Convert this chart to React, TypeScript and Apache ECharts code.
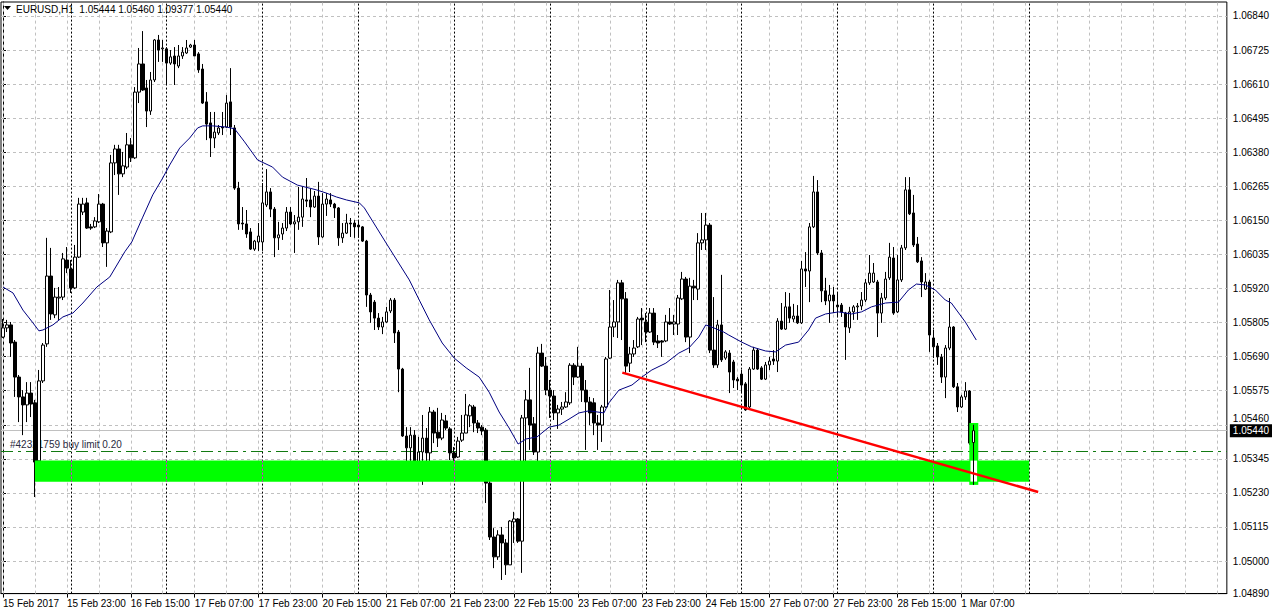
import React, { useEffect, useRef } from "react";
import * as echarts from "echarts";

// ---------- DATA ----------
const symbolTitle = "EURUSD,H1  1.05444 1.05460 1.09377 1.05440";

const dateLabels = [
  "15 Feb 2017", "15 Feb 23:00", "16 Feb 15:00", "17 Feb 07:00", "17 Feb 23:00",
  "20 Feb 15:00", "21 Feb 07:00", "21 Feb 23:00", "22 Feb 15:00", "23 Feb 07:00",
  "23 Feb 23:00", "24 Feb 15:00", "27 Feb 07:00", "27 Feb 23:00", "28 Feb 15:00",
  "1 Mar 07:00",
];
const barsPerLabel = 16;
const barsPerGridLine = 8;
const totalSlots = 307; // bar slots visible across the chart (incl. empty future area)
const dayStartBars = [17, 41, 65, 89, 113, 137, 161, 185, 209, 233, 257];

const priceTicks = [
  1.0684, 1.06725, 1.0661, 1.06495, 1.0638, 1.06265, 1.0615, 1.06035, 1.0592,
  1.05805, 1.0569, 1.05575, 1.0546, 1.05345, 1.0523, 1.05115, 1.05, 1.0489,
];
const priceMin = 1.0489;
const priceMax = 1.068872;

const open = [
  1.05756,1.05787,1.05797,1.05739,1.05621,1.05554,1.05527,1.05567,1.05534,1.05338,
  1.05608,1.05733,1.05962,1.05831,1.05888,1.05891,1.06016,1.05986,1.05922,1.06026,
  1.06178,1.06209,1.06128,1.06128,1.06145,1.06205,1.06074,1.06111,1.06344,1.06391,
  1.06307,1.06330,1.06405,1.06361,1.06583,1.06678,1.06597,1.06519,1.06624,1.06759,
  1.06729,1.06729,1.06681,1.06705,1.06671,1.06705,1.06715,1.06735,1.06742,1.06712,
  1.06661,1.06550,1.06479,1.06428,1.06445,1.06465,1.06465,1.06550,1.06462,1.06259,
  1.06141,1.06138,1.06111,1.06053,1.06077,1.06077,1.06202,1.06246,1.06188,1.06091,
  1.06104,1.06124,1.06178,1.06138,1.06145,1.06161,1.06219,1.06219,1.06195,1.06232,
  1.06094,1.06205,1.06219,1.06205,1.06192,1.06091,1.06107,1.06141,1.06141,1.06134,
  1.06128,1.06080,1.05898,1.05874,1.05820,1.05790,1.05807,1.05844,1.05881,1.05773,
  1.05648,1.05422,1.05382,1.05425,1.05314,1.05368,1.05415,1.05365,1.05503,1.05435,
  1.05415,1.05473,1.05446,1.05365,1.05351,1.05408,1.05432,1.05490,1.05520,1.05466,
  1.05452,1.05442,1.05263,1.05081,1.05014,1.05088,1.05061,1.04987,1.05132,1.05142,
  1.05067,1.05483,1.05544,1.05463,1.05368,1.05702,1.05658,1.05577,1.05557,1.05500,
  1.05513,1.05520,1.05534,1.05661,1.05621,1.05658,1.05577,1.05537,1.05534,1.05466,
  1.05459,1.05520,1.05685,1.05790,1.05807,1.05939,1.05885,1.05668,1.05699,1.05723,
  1.05820,1.05807,1.05773,1.05837,1.05743,1.05743,1.05743,1.05807,1.05800,1.05800,
  1.05885,1.05952,1.05756,1.05928,1.05918,1.06074,1.06084,1.06134,1.05712,1.05662,
  1.05797,1.05685,1.05702,1.05672,1.05614,1.05631,1.05598,1.05520,1.05648,1.05712,
  1.05652,1.05614,1.05662,1.05682,1.05675,1.05810,1.05783,1.05858,1.05817,1.05827,
  1.05804,1.05986,1.05979,1.06128,1.06246,1.06040,1.05912,1.05878,1.05898,1.05864,
  1.05864,1.05837,1.05787,1.05841,1.05858,1.05861,1.05881,1.05939,1.05942,1.05942,
  1.05837,1.05888,1.05956,1.06023,1.05841,1.05949,1.06057,1.06253,1.06175,1.06070,
  1.06013,1.05918,1.05942,1.05753,1.05726,1.05689,1.05621,1.05719,1.05790,1.05588,
  1.05520,1.05554,1.05574,1.05400,
];
const high = [
  1.05817,1.05814,1.05807,1.05746,1.05628,1.05577,1.05604,1.05604,1.05544,1.05645,
  1.05736,1.06091,1.06057,1.05922,1.05925,1.06040,1.06060,1.06016,1.06067,1.06226,
  1.06226,1.06226,1.06138,1.06161,1.06239,1.06209,1.06124,1.06371,1.06405,1.06405,
  1.06381,1.06445,1.06428,1.06600,1.06732,1.06789,1.06624,1.06651,1.06762,1.06776,
  1.06759,1.06735,1.06725,1.06735,1.06742,1.06735,1.06759,1.06746,1.06759,1.06718,
  1.06678,1.06583,1.06516,1.06516,1.06472,1.06516,1.06573,1.06664,1.06472,1.06280,
  1.06195,1.06185,1.06124,1.06084,1.06141,1.06276,1.06323,1.06259,1.06195,1.06145,
  1.06141,1.06195,1.06195,1.06168,1.06263,1.06263,1.06293,1.06256,1.06249,1.06280,
  1.06242,1.06242,1.06242,1.06209,1.06195,1.06141,1.06172,1.06158,1.06151,1.06148,
  1.06131,1.06084,1.05905,1.05881,1.05837,1.05824,1.05858,1.05888,1.05888,1.05780,
  1.05652,1.05452,1.05452,1.05442,1.05419,1.05493,1.05449,1.05520,1.05510,1.05517,
  1.05500,1.05493,1.05452,1.05385,1.05419,1.05493,1.05564,1.05530,1.05527,1.05476,
  1.05459,1.05449,1.05270,1.05111,1.05104,1.05115,1.05074,1.05138,1.05166,1.05145,
  1.05493,1.05577,1.05652,1.05486,1.05723,1.05733,1.05689,1.05611,1.05577,1.05527,
  1.05537,1.05570,1.05668,1.05668,1.05723,1.05668,1.05611,1.05554,1.05550,1.05493,
  1.05527,1.05689,1.05915,1.05881,1.05949,1.05949,1.05908,1.05723,1.05746,1.05824,
  1.05854,1.05837,1.05854,1.05854,1.05763,1.05746,1.05831,1.05854,1.05831,1.05898,
  1.05976,1.05959,1.05956,1.05949,1.06107,1.06175,1.06175,1.06141,1.05891,1.05814,
  1.05966,1.05712,1.05712,1.05679,1.05621,1.05645,1.05604,1.05655,1.05723,1.05719,
  1.05658,1.05672,1.05689,1.05712,1.05820,1.05871,1.05908,1.05905,1.05868,1.05864,
  1.06013,1.06043,1.06141,1.06300,1.06286,1.06050,1.05956,1.05932,1.05925,1.05908,
  1.05871,1.05841,1.05858,1.05864,1.05871,1.05908,1.05952,1.06033,1.06006,1.05949,
  1.05905,1.05976,1.06074,1.06060,1.06033,1.06067,1.06296,1.06296,1.06236,1.06094,
  1.06026,1.05972,1.05949,1.05780,1.05736,1.05699,1.05729,1.05888,1.05793,1.05601,
  1.05561,1.05604,1.05577,1.05460,
];
const low = [
  1.05753,1.05773,1.05689,1.05554,1.05469,1.05425,1.05469,1.05486,1.05216,1.05314,
  1.05601,1.05723,1.05814,1.05820,1.05814,1.05881,1.05972,1.05905,1.05918,1.06023,
  1.06168,1.06121,1.06118,1.06124,1.06141,1.06060,1.05993,1.06107,1.06303,1.06236,
  1.06296,1.06323,1.06347,1.06357,1.06546,1.06587,1.06465,1.06506,1.06617,1.06685,
  1.06685,1.06607,1.06675,1.06607,1.06664,1.06695,1.06712,1.06732,1.06705,1.06648,
  1.06543,1.06421,1.06364,1.06394,1.06438,1.06438,1.06462,1.06438,1.06253,1.06118,
  1.06118,1.06091,1.06050,1.06047,1.06047,1.06047,1.06195,1.06161,1.06026,1.06050,
  1.06084,1.06114,1.06134,1.06040,1.06118,1.06128,1.06195,1.06161,1.06192,1.06067,
  1.06091,1.06165,1.06195,1.06158,1.06064,1.06074,1.06104,1.06094,1.06091,1.06091,
  1.06077,1.05858,1.05804,1.05780,1.05780,1.05766,1.05804,1.05837,1.05736,1.05570,
  1.05419,1.05331,1.05317,1.05307,1.05297,1.05257,1.05277,1.05277,1.05398,1.05385,
  1.05408,1.05442,1.05341,1.05334,1.05348,1.05402,1.05432,1.05452,1.05435,1.05432,
  1.05425,1.05196,1.05071,1.04976,1.05004,1.04936,1.04953,1.04987,1.05061,1.05061,
  1.04960,1.05324,1.05375,1.05358,1.05297,1.05655,1.05560,1.05483,1.05476,1.05446,
  1.05493,1.05517,1.05527,1.05594,1.05618,1.05537,1.05375,1.05459,1.05425,1.05375,
  1.05402,1.05517,1.05682,1.05756,1.05753,1.05746,1.05635,1.05638,1.05689,1.05719,
  1.05729,1.05739,1.05770,1.05729,1.05719,1.05689,1.05739,1.05797,1.05763,1.05763,
  1.05881,1.05739,1.05702,1.05881,1.05881,1.06050,1.06050,1.05702,1.05652,1.05652,
  1.05672,1.05679,1.05567,1.05584,1.05577,1.05567,1.05507,1.05513,1.05645,1.05645,
  1.05611,1.05611,1.05645,1.05662,1.05638,1.05780,1.05780,1.05804,1.05807,1.05800,
  1.05800,1.05925,1.05874,1.06124,1.06033,1.05874,1.05864,1.05804,1.05837,1.05824,
  1.05824,1.05679,1.05770,1.05814,1.05814,1.05847,1.05874,1.05932,1.05939,1.05756,
  1.05804,1.05881,1.05949,1.05831,1.05837,1.05942,1.06050,1.06168,1.06060,1.06006,
  1.05891,1.05915,1.05706,1.05685,1.05662,1.05601,1.05550,1.05712,1.05584,1.05503,
  1.05517,1.05544,1.05392,1.05257,
];
const close = [
  1.05787,1.05797,1.05736,1.05621,1.05554,1.05527,1.05567,1.05530,1.05334,1.05608,
  1.05729,1.05962,1.05834,1.05891,1.05891,1.06020,1.05989,1.05922,1.06026,1.06205,
  1.06205,1.06124,1.06124,1.06148,1.06205,1.06074,1.06114,1.06344,1.06391,1.06307,
  1.06334,1.06405,1.06361,1.06583,1.06678,1.06590,1.06519,1.06624,1.06759,1.06725,
  1.06732,1.06681,1.06702,1.06678,1.06705,1.06718,1.06732,1.06742,1.06705,1.06658,
  1.06546,1.06475,1.06428,1.06448,1.06462,1.06462,1.06546,1.06465,1.06259,1.06138,
  1.06138,1.06104,1.06053,1.06080,1.06097,1.06209,1.06246,1.06188,1.06091,1.06101,
  1.06124,1.06178,1.06138,1.06145,1.06161,1.06222,1.06215,1.06195,1.06232,1.06094,
  1.06205,1.06222,1.06205,1.06192,1.06091,1.06107,1.06141,1.06138,1.06128,1.06128,
  1.06080,1.05898,1.05841,1.05820,1.05790,1.05807,1.05841,1.05881,1.05770,1.05648,
  1.05422,1.05382,1.05425,1.05314,1.05368,1.05415,1.05365,1.05503,1.05432,1.05415,
  1.05476,1.05449,1.05365,1.05348,1.05405,1.05432,1.05493,1.05524,1.05466,1.05449,
  1.05439,1.05263,1.05081,1.05014,1.05088,1.05061,1.04987,1.05135,1.05142,1.05067,
  1.05483,1.05544,1.05459,1.05368,1.05702,1.05658,1.05577,1.05557,1.05500,1.05513,
  1.05520,1.05537,1.05661,1.05621,1.05658,1.05577,1.05537,1.05500,1.05466,1.05459,
  1.05520,1.05682,1.05790,1.05807,1.05939,1.05885,1.05658,1.05699,1.05719,1.05817,
  1.05814,1.05773,1.05837,1.05739,1.05736,1.05739,1.05807,1.05800,1.05807,1.05888,
  1.05952,1.05756,1.05928,1.05922,1.06074,1.06084,1.06134,1.05712,1.05662,1.05797,
  1.05679,1.05706,1.05638,1.05611,1.05608,1.05594,1.05510,1.05648,1.05712,1.05648,
  1.05614,1.05662,1.05675,1.05675,1.05810,1.05783,1.05858,1.05820,1.05827,1.05804,
  1.05986,1.05979,1.06128,1.06246,1.06040,1.05912,1.05878,1.05898,1.05878,1.05858,
  1.05841,1.05790,1.05841,1.05858,1.05861,1.05881,1.05939,1.05972,1.05972,1.05837,
  1.05888,1.05952,1.06026,1.05837,1.05949,1.06057,1.06253,1.06172,1.06067,1.06010,
  1.05942,1.05942,1.05763,1.05723,1.05689,1.05621,1.05719,1.05790,1.05588,1.05520,
  1.05554,1.05574,1.05398,1.05440,
];

// moving average: [bar index, price]
const maPoints: [number, number][] = [
  [0,1.05925],[2.5,1.05905],[5,1.05847],[7.5,1.05804],[9,1.05777],[10,1.05780],[12.5,1.05797],
  [15,1.05824],[17.5,1.05837],[20,1.05871],[23.5,1.05925],[26.75,1.05959],[30.5,1.06044],
  [32.25,1.06077],[35,1.06161],[37.5,1.06236],[40,1.06293],[41.75,1.06337],[44.25,1.06394],
  [46.75,1.06428],[48.75,1.06462],[50,1.06469],[52.5,1.06469],[56,1.06465],[58,1.06459],
  [60.5,1.06415],[63.75,1.06354],[67.5,1.0633],[70,1.06296],[73.75,1.06269],[78.5,1.06253],
  [81,1.06242],[83.5,1.06229],[86,1.06219],[89.25,1.06209],[90.5,1.06192],[96.25,1.06067],
  [101.75,1.05949],[104.25,1.05881],[106.75,1.05814],[110,1.05736],[113,1.05685],[116,1.05652],
  [119.25,1.05621],[121.75,1.0557],[124.25,1.05503],[126.75,1.05449],[129,1.05395],[131,1.05412],
  [133.75,1.05419],[136.75,1.05452],[139.25,1.05459],[141.75,1.05479],[144.25,1.055],
  [146.75,1.05507],[150.5,1.055],[151.75,1.05534],[154.25,1.05577],[157.5,1.05594],[160,1.05621],
  [162.5,1.05645],[166,1.05668],[169.25,1.05702],[171.75,1.05719],[174.25,1.05756],[176,1.05797],
  [178,1.05787],[180.5,1.05773],[181.75,1.05763],[185,1.05739],[187.5,1.05723],[191,1.05709],
  [193.5,1.05706],[196,1.05729],[199.25,1.05739],[201.75,1.0578],[203.5,1.0582],[206,1.05834],
  [209.25,1.05841],[212.5,1.05834],[215,1.05841],[217.5,1.05858],[221,1.05871],[224.25,1.05874],
  [226.75,1.05915],[228.75,1.05935],[231,1.05932],[233.5,1.05915],[236,1.05881],[237.5,1.05871],
  [241,1.05807],[243.75,1.05746],
];

const trendLine: [number, number][] = [[155.1, 1.05636], [259.25, 1.05233]];
const zoneBars = [8, 257];
const zonePrices = [1.05339, 1.05268];
const lastBarZoneBars = [242, 244.25];
const lastBarZonePrices = [1.05466, 1.05257];
const orderPrice = 1.0537;
const orderText = "#42321759 buy limit 0.20";
const bidPrice = 1.0544;

const FONT = '"Liberation Sans", Arial, sans-serif';

export default function App() {
  const ref = useRef<HTMLDivElement>(null);

  useEffect(() => {
    if (!ref.current) return;
    const chart = echarts.init(ref.current, undefined, { renderer: "svg" });

    const categories = Array.from({ length: totalSlots }, (_, i) =>
      i % barsPerLabel === 0 && i / barsPerLabel < dateLabels.length ? dateLabels[i / barsPerLabel] : ""
    );
    const candles = open.map((o, i) => [o, close[i], low[i], high[i]]);
    const lastIdx = candles.length - 1;
    const lastCandle = candles.map((c, i) => (i === lastIdx ? c : "-"));

    const vGrid: any[] = [];
    for (let b = 0; b < totalSlots; b += barsPerGridLine) vGrid.push({ xAxis: b });
    const hGrid = priceTicks.filter((p) => p > priceMin).map((p) => ({ yAxis: p }));

    const grayDash = { color: "#c0c0c0", type: [3, 3] as any, width: 1 };
    // the price tick right above the bid box is lifted a little so both stay readable
    const nearBid = (v: number) => Math.abs(v - bidPrice) < 0.0003;

    const option: any = {
      animation: false,
      backgroundColor: "#ffffff",
      textStyle: { fontFamily: FONT },
      grid: {
        left: 1, right: 43, top: 2, bottom: 22.4,
        show: true, borderColor: "#000", borderWidth: 1, backgroundColor: "#fff",
      },
      xAxis: [
        {
          type: "category",
          data: categories,
          boundaryGap: true,
          axisLine: { show: true, lineStyle: { color: "#000" } },
          axisTick: {
            show: true, alignWithLabel: true, length: 4,
            interval: (i: number) => categories[i] !== "",
            lineStyle: { color: "#000" },
          },
          axisLabel: {
            interval: 0, align: "left", color: "#000", fontSize: 10, margin: 5, fontFamily: FONT,
          },
          splitLine: { show: false },
        },
        { type: "value", min: -0.5, max: totalSlots - 0.5, show: false, position: "top" },
      ],
      yAxis: {
        type: "value",
        position: "right",
        min: priceMin,
        max: priceMax,
        axisLine: { show: true, lineStyle: { color: "#000" } },
        axisTick: { show: true, customValues: priceTicks, length: 3, lineStyle: { color: "#000" } },
        axisLabel: {
          customValues: priceTicks, color: "#000", fontSize: 10, margin: 6, fontFamily: FONT,
          formatter: (v: number) => (nearBid(v) ? `{up|${v.toFixed(5)}}` : v.toFixed(5)),
          rich: { up: { color: "#000", fontSize: 10, fontFamily: FONT, padding: [0, 0, 12, 0] } },
        },
        splitLine: { show: false },
      },
      graphic: [
        { type: "polygon", shape: { points: [[4, 6], [11, 6], [7.5, 10]] }, style: { fill: "#000" }, z: 100 },
        {
          type: "text", x: 16, y: 9, z: 100,
          style: {
            text: symbolTitle, fill: "#000", fontSize: 10, fontFamily: FONT,
            verticalAlign: "middle",
          },
        },
      ],
      series: [
        {
          name: "grid", type: "line", xAxisIndex: 1, data: [], z: 1, silent: true,
          markLine: {
            silent: true, symbol: ["none", "none"], z: 1, precision: 5, label: { show: false },
            lineStyle: grayDash,
            data: [
              ...hGrid,
              ...vGrid,
              ...dayStartBars.map((b) => ({ xAxis: b, lineStyle: { color: "#000", type: [2, 2], width: 1 } })),
            ],
          },
        },
        {
          name: "levels", type: "line", xAxisIndex: 1, data: [], z: 2, silent: true,
          markLine: {
            silent: true, symbol: ["none", "none"], z: 2, precision: 5,
            data: [
              {
                yAxis: bidPrice,
                lineStyle: { color: "#c0c0c0", type: "solid", width: 1 },
                label: {
                  show: true, position: "end", formatter: bidPrice.toFixed(5), color: "#fff",
                  backgroundColor: "#000", padding: [2, 3, 1, 3], fontSize: 10, distance: 3, fontFamily: FONT,
                },
              },
              {
                yAxis: orderPrice,
                lineStyle: { color: "#117a11", type: [12, 5, 3, 5], width: 1 },
                label: {
                  show: true, position: "insideStartTop", formatter: orderText, color: "#2a2a40",
                  fontSize: 10, distance: 2, padding: [0, 0, 0, 7], fontFamily: FONT,
                },
              },
            ],
          },
        },
        {
          name: "EURUSD", type: "candlestick", xAxisIndex: 0, data: candles, barWidth: 3, z: 3,
          itemStyle: { color: "#fff", color0: "#000", borderColor: "#000", borderColor0: "#000", borderWidth: 1 },
        },
        {
          name: "MA", type: "line", xAxisIndex: 1, data: maPoints, symbol: "none", z: 4, silent: true,
          lineStyle: { color: "#000080", width: 1 },
        },
        {
          name: "zone", type: "line", xAxisIndex: 1, data: [], z: 5, silent: true,
          markArea: {
            silent: true, z: 5,
            itemStyle: { color: "#00ff00", opacity: 1 },
            data: [
              [{ xAxis: zoneBars[0], yAxis: zonePrices[0] }, { xAxis: zoneBars[1], yAxis: zonePrices[1] }],
            ],
          },
        },
        {
          name: "lastZone", type: "line", xAxisIndex: 1, data: [], z: 6, silent: true,
          markArea: {
            silent: true, z: 6,
            data: [
              [
                { xAxis: lastBarZoneBars[0], yAxis: lastBarZonePrices[0], itemStyle: { color: "#00ff00", opacity: 1 } },
                { xAxis: lastBarZoneBars[1], yAxis: lastBarZonePrices[1] },
              ],
              [
                { xAxis: lastBarZoneBars[0] + 0.3, yAxis: zonePrices[0], itemStyle: { color: "#ffffff", opacity: 1 } },
                { xAxis: lastBarZoneBars[1] - 0.3, yAxis: zonePrices[1] },
              ],
            ],
          },
          markLine: {
            silent: true, symbol: ["none", "none"], z: 6, precision: 5, label: { show: false },
            lineStyle: { color: "#ff00ff", type: [2, 2], width: 1 },
            data: dayStartBars
              .filter((b) => b > zoneBars[0] && b < zoneBars[1])
              .map((b) => [{ xAxis: b, yAxis: zonePrices[0] }, { xAxis: b, yAxis: zonePrices[1] }]),
          },
        },
        {
          name: "last", type: "candlestick", xAxisIndex: 0, data: lastCandle, barWidth: 3, z: 7,
          itemStyle: { color: "#fff", color0: "#000", borderColor: "#000", borderColor0: "#000", borderWidth: 1 },
        },
        {
          name: "trend", type: "line", xAxisIndex: 1, data: trendLine, symbol: "none", z: 8, silent: true,
          lineStyle: { color: "#ff0000", width: 2.5 },
        },
      ],
    };

    chart.setOption(option);
    return () => chart.dispose();
  }, []);

  return (
    <div
      ref={ref}
      style={{ position: "fixed", left: 0, top: 0, width: 1272, height: 616, background: "#fff" }}
    />
  );
}
